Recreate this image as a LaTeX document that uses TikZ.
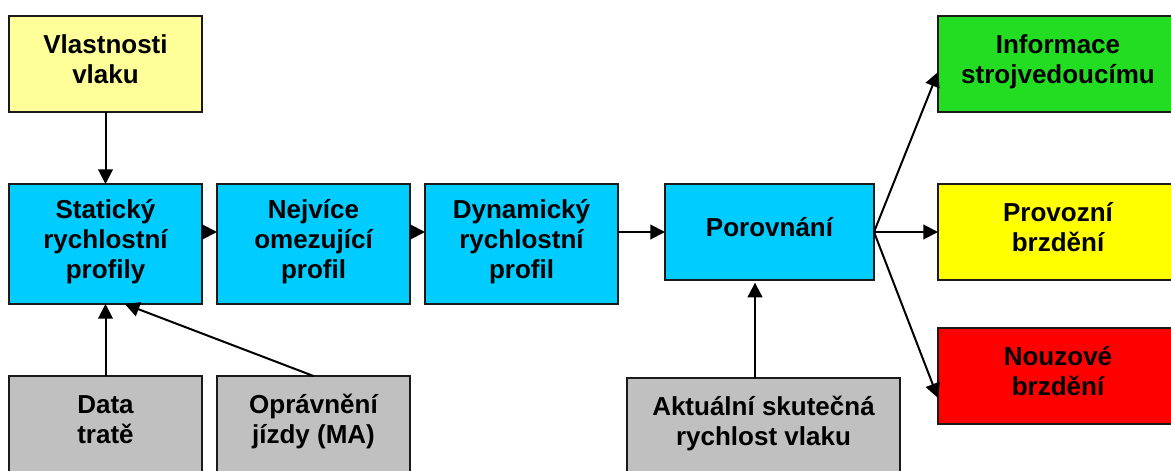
\documentclass[tikz,border=0pt]{standalone}
\usepackage{fontspec}
\setmainfont{Liberation Sans}
\usetikzlibrary{arrows.meta,calc}

\definecolor{edge}{HTML}{1A1A1A}
\definecolor{paleyellow}{HTML}{FFFF99}
\definecolor{skyblue}{HTML}{00CCFF}
\definecolor{okgreen}{HTML}{22DD22}
\definecolor{warnyellow}{HTML}{FFFF00}
\definecolor{alarmred}{HTML}{FF0000}
\definecolor{inputgrey}{HTML}{C0C0C0}

% line strut: every text line gets the same height and depth
\newcommand{\sr}{\rule[-7.9pt]{0pt}{22.4pt}}

\begin{document}
\begin{tikzpicture}[x=0.75pt,y=-0.75pt,
  box/.style={draw=edge, line width=1.5pt, inner sep=0pt, outer sep=0pt,
    align=center, font=\fontsize{19.5}{22.5}\selectfont\bfseries},
  narrow/.style={box, minimum width=144.75pt, minimum height=72pt},
  tall/.style={box, minimum width=144.75pt, minimum height=90pt},
  wide/.style={box, minimum width=180pt, minimum height=72pt},
  arr/.style={draw=black, line width=1.5pt, -{Triangle[length=11pt,width=11pt]}}]

\useasboundingbox (0,0) rectangle (1171,471);
\clip (0,0) rectangle (1171,471);
\fill[white] (0,0) rectangle (1171,471);

% inputs
\node[narrow, fill=paleyellow] (vl) at (105.5,64) {\sr Vlastnosti\\\sr vlaku};
\node[narrow, fill=inputgrey] (da) at (105.5,424) {\sr Data\\\sr tratě};
\node[narrow, fill=inputgrey] (op) at (313.5,424) {\sr Oprávnění\\\sr jízdy (MA)};
\node[box, fill=inputgrey, minimum width=204.75pt, minimum height=72pt] (ak) at (763.5,426)
  {\sr Aktuální skutečná\\\sr rychlost vlaku};

% processing chain
\node[tall, fill=skyblue] (st) at (105.5,244) {\sr Statický\\\sr rychlostní\\\sr profily};
\node[tall, fill=skyblue] (ne) at (313.5,244) {\sr Nejvíce\\\sr omezující\\\sr profil};
\node[tall, fill=skyblue] (dy) at (521.5,244) {\sr Dynamický\\\sr rychlostní\\\sr profil};
\node[box, fill=skyblue, minimum width=156.75pt, minimum height=72pt] (po) at (769.5,232) {\sr Porovnání};

% outputs
\node[wide, fill=okgreen] (in) at (1058,64) {\sr Informace\\\sr strojvedoucímu};
\node[wide, fill=warnyellow] (pr) at (1058,232) {\sr Provozní\\\sr brzdění};
\node[wide, fill=alarmred] (no) at (1058,376) {\sr Nouzové\\\sr brzdění};

% connector end points
\coordinate (opin) at ($(st.south west)!0.6!(st.south east)$);
\coordinate (akx) at (755,0);
\coordinate (inin) at ($(in.west)+(0,8)$);
\coordinate (noin) at ($(no.west)+(0,22)$);

% connectors
\draw[arr] (vl.south) -- (st.north);
\draw[arr] (da.north) -- (st.south);
\draw[arr] (op.north) -- (opin);
\draw[arr] (st.east |- po.west) -- (ne.west |- po.west);
\draw[arr] (ne.east |- po.west) -- (dy.west |- po.west);
\draw[arr] (dy.east |- po.west) -- (po.west);
\draw[arr, shorten >=2pt] (ak.north -| akx) -- (po.south -| akx);
\draw[arr] (po.east) -- (inin);
\draw[arr] (po.east) -- (pr.west);
\draw[arr] (po.east) -- (noin);
\end{tikzpicture}
\end{document}
